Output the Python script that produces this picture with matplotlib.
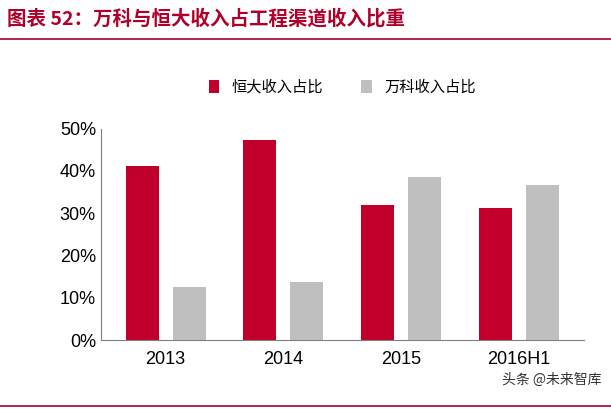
import matplotlib.pyplot as plt
import numpy as np

plt.rcParams['font.family'] = ['Liberation Sans', 'Noto Sans CJK SC']

years = ['2013', '2014', '2015', '2016H1']
evergrande = [41.2, 47.4, 32.0, 31.3]
vanke = [12.6, 13.7, 38.6, 36.7]

fig = plt.figure(figsize=(6.11, 4.11), dpi=100)
ax = fig.add_axes([0.165, 0.172, 0.79, 0.515])

x = np.arange(len(years))
w = 0.28
ax.bar(x - 0.2, evergrande, w, color='#C0002A', label='恒大收入占比')
ax.bar(x + 0.2, vanke, w, color='#BFBFBF', label='万科收入占比')

ax.set_ylim(0, 50)
ax.set_xlim(-0.55, 3.55)
ax.set_yticks(range(0, 51, 10))
ax.set_yticklabels([f'{v}%' for v in range(0, 51, 10)], fontsize=13)
ax.set_xticks(x)
ax.set_xticklabels(years, fontsize=13)
ax.tick_params(axis='x', length=0, pad=8)
ax.tick_params(axis='y', length=0)
for s in ['top', 'right']:
    ax.spines[s].set_visible(False)
ax.spines['left'].set_color('#808080')
ax.spines['bottom'].set_color('#808080')

ax.legend(loc='upper center', bbox_to_anchor=(0.5, 1.3), ncol=2, frameon=False,
          fontsize=11, handlelength=0.7, handleheight=0.9, columnspacing=2.5,
          prop={'family': 'Noto Sans CJK SC', 'size': 11})

fig.text(0.012, 0.955, '图表 52：万科与恒大收入占工程渠道收入比重', fontsize=14,
         color='#B0002A', fontweight='bold', style='italic', va='center',
         family=['Noto Sans CJK SC', 'DejaVu Sans'])
fig.add_artist(plt.Line2D([0.0, 1.0], [0.905, 0.905], color='#A5002A', lw=1.2))
fig.add_artist(plt.Line2D([0.0, 1.0], [0.012, 0.012], color='#A5002A', lw=1.2))
fig.text(0.985, 0.065, '头条 @未来智库', fontsize=10, color='#333333', ha='right',
         family=['Noto Sans CJK SC', 'DejaVu Sans'])

fig.savefig('out.png', dpi=100)
